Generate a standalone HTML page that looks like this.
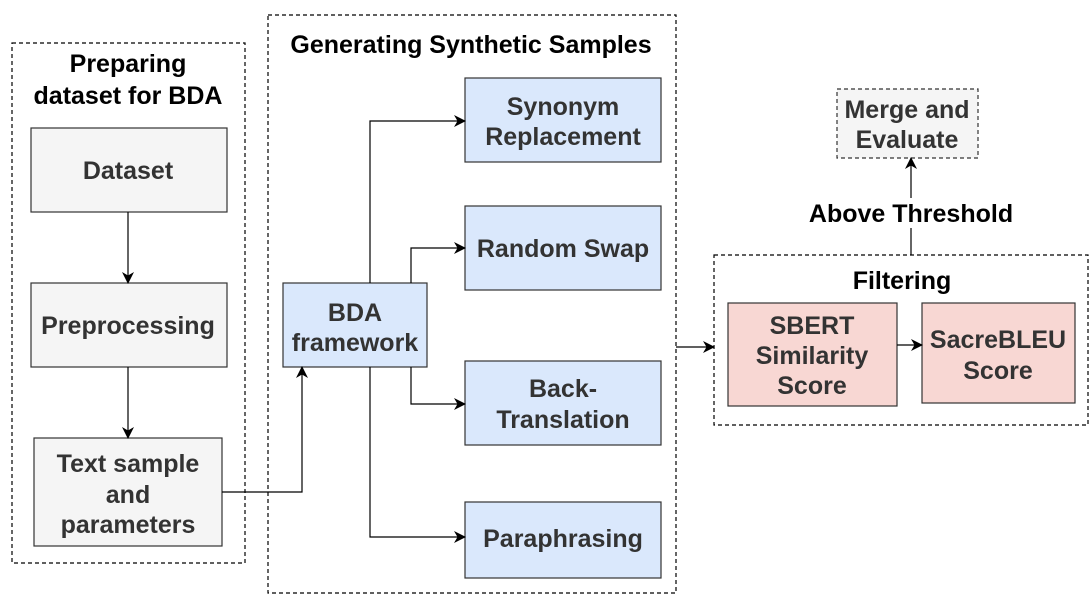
<!DOCTYPE html>
<html><head><meta charset="utf-8"><style>
html,body{margin:0;padding:0;background:#fff;}
svg{display:block;}
text{font-family:"Liberation Sans",sans-serif;font-weight:bold;text-anchor:middle;}
.t{fill:#333;font-size:25px;}
.h{fill:#000;font-size:25px;}
</style></head><body>
<svg width="1090" height="598" viewBox="0 0 1090 598" xmlns="http://www.w3.org/2000/svg">
<defs><marker id="a" markerWidth="12" markerHeight="12" refX="11" refY="6" orient="auto" markerUnits="userSpaceOnUse"><path d="M0,0 L12,6 L0,12 L3.5,6 z" fill="#000"/></marker></defs>
<g fill="none" stroke="#000" stroke-width="1.2" stroke-dasharray="4,3">
<rect x="12" y="43" width="233" height="520"/>
<rect x="268" y="15" width="408" height="578"/>
<rect x="714" y="255" width="374" height="170"/>
</g>
<rect x="837" y="89" width="141" height="69" fill="#f5f5f5" stroke="#333" stroke-width="1.2" stroke-dasharray="4,3"/>
<g stroke="#333" stroke-width="1.2">
<rect x="31" y="128" width="196" height="84" fill="#f5f5f5"/>
<rect x="31" y="283" width="196" height="84" fill="#f5f5f5"/>
<rect x="34" y="438" width="188" height="108" fill="#f5f5f5"/>
<rect x="283" y="283" width="144" height="84" fill="#dae8fc"/>
<rect x="465" y="78" width="196" height="84" fill="#dae8fc"/>
<rect x="465" y="206" width="196" height="84" fill="#dae8fc"/>
<rect x="465" y="361" width="196" height="84" fill="#dae8fc"/>
<rect x="465" y="502" width="196" height="76" fill="#dae8fc"/>
<rect x="728" y="303" width="169" height="103" fill="#f8d7d3"/>
<rect x="922" y="303" width="153" height="100" fill="#f8d7d3"/>
</g>
<g fill="none" stroke="#000" stroke-width="1.2" marker-end="url(#a)">
<path d="M128 212 V283"/>
<path d="M128 367 V438"/>
<path d="M222 492 H302 V367"/>
<path d="M370 283 V121 H465"/>
<path d="M411 283 V248 H465"/>
<path d="M411 367 V404 H465"/>
<path d="M370 367 V537 H465"/>
<path d="M676 347 H714"/>
<path d="M897 345 H922"/>
<path d="M911 255 V158"/>
</g>
<rect x="800" y="198" width="222" height="30" fill="#fff"/>
<text class="h" x="911" y="222">Above Threshold</text>
<text class="h" x="128" y="72">Preparing</text>
<text class="h" x="128" y="104">dataset for BDA</text>
<text class="h" x="471" y="53">Generating Synthetic Samples</text>
<text class="h" x="902" y="289">Filtering</text>
<text class="t" x="128" y="179">Dataset</text>
<text class="t" x="128" y="334">Preprocessing</text>
<text class="t" x="128" y="472">Text sample</text>
<text class="t" x="128" y="503">and</text>
<text class="t" x="128" y="533">parameters</text>
<text class="t" x="355" y="321">BDA</text>
<text class="t" x="355" y="351">framework</text>
<text class="t" x="563" y="115">Synonym</text>
<text class="t" x="563" y="145">Replacement</text>
<text class="t" x="563" y="257">Random Swap</text>
<text class="t" x="563" y="397">Back-</text>
<text class="t" x="563" y="428">Translation</text>
<text class="t" x="563" y="547">Paraphrasing</text>
<text class="t" x="812" y="334">SBERT</text>
<text class="t" x="812" y="364">Similarity</text>
<text class="t" x="812" y="394">Score</text>
<text class="t" x="998" y="348">SacreBLEU</text>
<text class="t" x="998" y="379">Score</text>
<text class="t" x="907" y="118">Merge and</text>
<text class="t" x="907" y="148">Evaluate</text>
</svg>
</body></html>
